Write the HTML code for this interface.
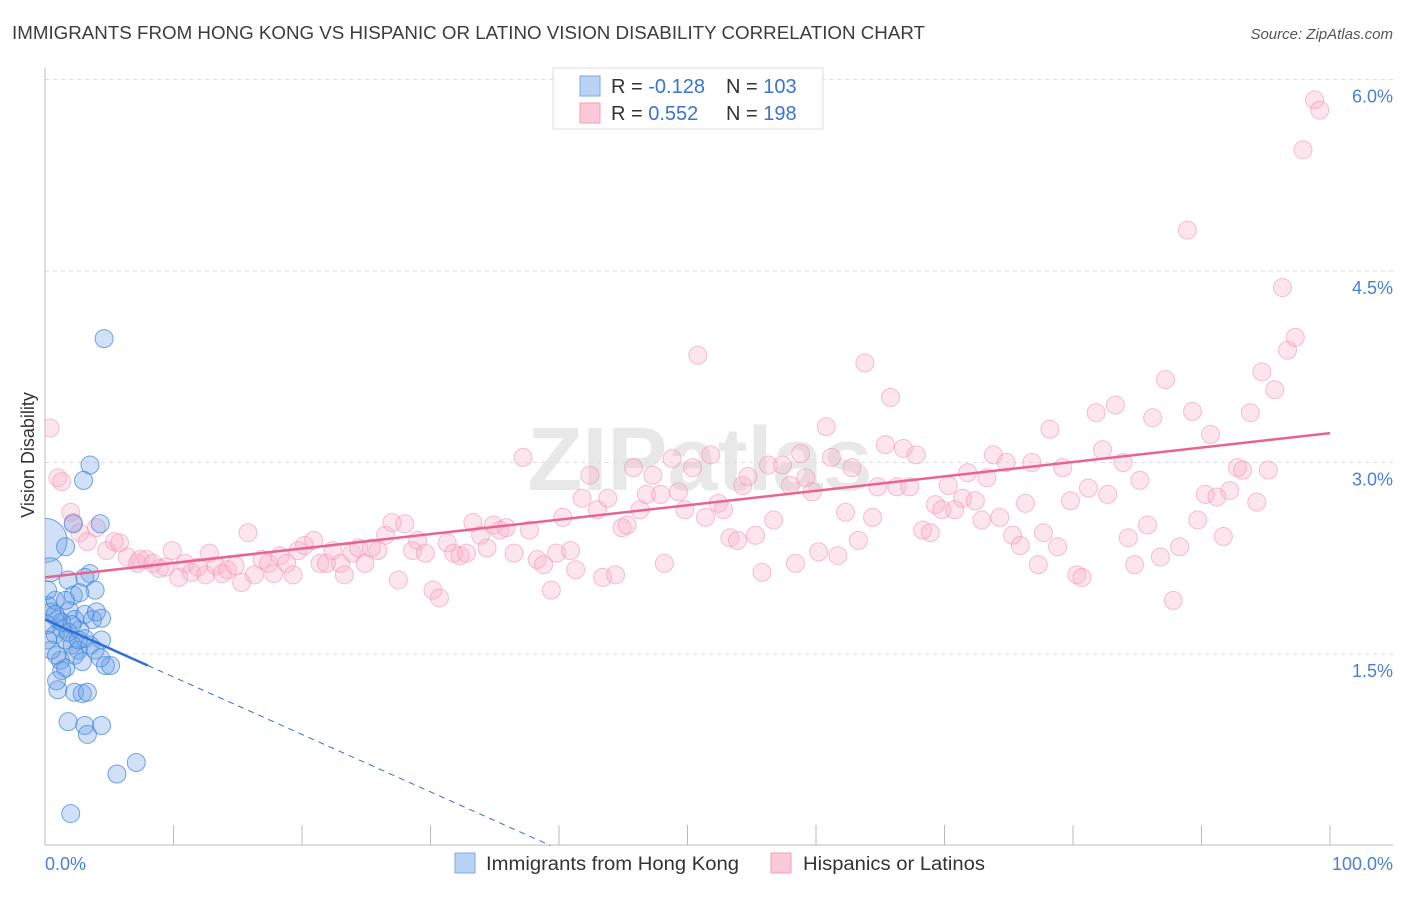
<!DOCTYPE html>
<html><head><meta charset="utf-8"><style>
body{margin:0;background:#fff;width:1406px;height:892px;overflow:hidden;font-family:"Liberation Sans",sans-serif}
svg text{font-family:"Liberation Sans",sans-serif}
</style></head><body>
<svg id="chart" width="1406" height="892">
<defs><clipPath id="plotclip"><rect x="45" y="60" width="1360" height="786"/></clipPath></defs>
<text x="12" y="39" font-size="18" fill="#3c3c3c" textLength="913" lengthAdjust="spacingAndGlyphs">IMMIGRANTS FROM HONG KONG VS HISPANIC OR LATINO VISION DISABILITY CORRELATION CHART</text>
<text x="1393" y="39" font-size="15" fill="#555" font-style="italic" text-anchor="end">Source: ZipAtlas.com</text>
<text x="700" y="490" font-size="90" fill="#e8e8e8" text-anchor="middle" font-weight="bold">ZIPatlas</text>
<g id="grid"></g><g id="axes"></g><g id="pts" clip-path="url(#plotclip)"></g><g id="trend"></g>
<text transform="translate(34,455) rotate(-90)" font-size="18" fill="#333" text-anchor="middle">Vision Disability</text>
<text x="45" y="870" font-size="18" fill="#4a7fd6">0.0%</text>
<text x="1393" y="870" font-size="18" fill="#4a7fd6" text-anchor="end">100.0%</text>
<g>
<rect x="553" y="68" width="270" height="61" fill="#fff" stroke="#ddd"/>
<rect x="580" y="76" width="20" height="20" fill="#b9d3f5" stroke="#7eaae8"/>
<rect x="580" y="103" width="20" height="20" fill="#fcc9d8" stroke="#f0a0b9"/>
<text x="611" y="93" font-size="20" fill="#333">R = <tspan fill="#3a73d2">-0.128</tspan></text>
<text x="726" y="93" font-size="20" fill="#333">N = <tspan fill="#3a73d2">103</tspan></text>
<text x="611" y="120" font-size="20" fill="#333">R = <tspan fill="#3a73d2"> 0.552</tspan></text>
<text x="726" y="120" font-size="20" fill="#333">N = <tspan fill="#3a73d2">198</tspan></text>
</g>
<g>
<rect x="455" y="853" width="20" height="20" fill="#b9d3f5" stroke="#7eaae8"/>
<text x="486" y="870" font-size="19" fill="#333" textLength="253" lengthAdjust="spacingAndGlyphs">Immigrants from Hong Kong</text></g>
<g>
<rect x="771" y="853" width="20" height="20" fill="#fcc9d8" stroke="#f0a0b9"/>
<text x="803" y="870" font-size="19" fill="#333" textLength="182" lengthAdjust="spacingAndGlyphs">Hispanics or Latinos</text></g>
</svg>
<script>
const yTicks=[1.5,3.0,4.5,6.0];
const yTickLabels=["1.5%","3.0%","4.5%","6.0%"];
const pinkX=[0.4,1.0,1.3,2.0,2.2,2.7,3.3,4.0,4.8,5.4,5.8,6.4,7.2,7.4,7.9,8.4,8.9,9.4,9.9,10.4,10.9,11.4,11.9,12.5,12.8,13.3,13.8,14.2,14.8,15.3,15.8,16.3,16.9,17.4,17.8,18.3,18.8,19.3,19.7,20.2,20.9,21.4,21.9,22.4,23.0,23.3,23.9,24.4,24.9,25.4,25.9,26.5,27.0,27.5,28.0,28.6,29.0,29.6,30.2,30.7,31.3,31.8,32.3,32.8,33.3,33.9,34.4,34.9,35.4,35.9,36.5,37.2,37.7,38.3,38.8,39.4,39.8,40.3,40.9,41.3,41.8,42.4,43.0,43.4,43.8,44.4,44.9,45.3,45.8,46.3,46.8,47.3,47.9,48.2,48.8,49.3,49.8,50.4,50.8,51.4,51.8,52.4,52.8,53.3,53.9,54.3,54.7,55.3,55.8,56.3,56.7,57.4,58.0,58.4,58.8,59.2,59.7,60.2,60.8,61.2,61.7,62.3,62.8,63.3,63.8,64.4,64.8,65.4,65.8,66.3,66.8,67.3,67.8,68.3,68.9,69.3,69.8,70.3,70.8,71.4,71.8,72.4,72.9,73.3,73.8,74.3,74.8,75.3,75.9,76.3,76.8,77.3,77.7,78.2,78.8,79.2,79.8,80.3,80.7,81.2,81.8,82.3,82.7,83.3,83.9,84.3,84.8,85.2,85.8,86.2,86.8,87.2,87.8,88.3,88.9,89.3,89.7,90.3,90.7,91.2,91.7,92.2,92.8,93.2,93.8,94.3,94.7,95.2,95.7,96.3,96.7,97.3,97.9,98.8,99.2];
const pinkY=[3.27,2.88,2.85,2.61,2.53,2.45,2.38,2.49,2.31,2.38,2.37,2.26,2.21,2.24,2.24,2.21,2.17,2.18,2.31,2.10,2.21,2.14,2.18,2.12,2.29,2.19,2.13,2.16,2.19,2.06,2.45,2.12,2.24,2.21,2.13,2.27,2.21,2.12,2.31,2.35,2.39,2.21,2.21,2.31,2.21,2.12,2.29,2.33,2.21,2.33,2.31,2.43,2.53,2.08,2.52,2.31,2.39,2.29,2.0,1.94,2.37,2.29,2.27,2.29,2.53,2.43,2.33,2.51,2.47,2.49,2.29,3.04,2.47,2.24,2.20,2.0,2.29,2.57,2.31,2.16,2.72,2.90,2.63,2.10,2.72,2.12,2.49,2.51,2.96,2.63,2.75,2.90,2.75,2.21,3.03,2.77,2.63,2.96,3.84,2.57,3.06,2.68,2.63,2.41,2.39,2.82,2.89,2.43,2.14,2.98,2.55,2.98,2.82,2.21,3.07,2.88,2.77,2.30,3.28,3.04,2.27,2.61,2.96,2.39,3.78,2.57,2.81,3.14,3.51,2.81,3.11,2.81,3.06,2.47,2.45,2.67,2.63,2.82,2.63,2.72,2.92,2.70,2.55,2.88,3.06,2.57,3.00,2.43,2.35,2.68,3.00,2.20,2.45,3.26,2.34,2.96,2.70,2.12,2.10,2.80,3.39,3.10,2.75,3.45,3.00,2.41,2.20,2.86,2.51,3.35,2.26,3.65,1.92,2.34,4.82,3.40,2.55,2.75,3.22,2.73,2.42,2.78,2.96,2.94,3.39,2.69,3.71,2.94,3.57,4.37,3.88,3.98,5.45,5.84,5.76];
const blueX=[4.6,3.5,3.0,2.2,4.3,0.0,1.6,0.4,3.5,1.8,3.1,3.9,2.2,2.7,0.2,0.5,1.0,1.3,1.9,2.3,2.7,3.1,3.7,4.0,4.4,0.2,0.8,1.6,2.1,2.6,3.1,3.5,4.4,1.2,1.6,2.3,2.9,4.7,5.1,0.2,0.5,0.9,1.3,1.8,1.0,2.3,2.9,3.3,0.8,1.6,1.8,3.1,4.4,3.3,5.6,7.1,2.0,0.2,0.8,2.1,2.6,3.9,1.3,0.9,4.3];
const blueY=[3.97,2.98,2.86,2.52,2.52,2.39,2.34,2.16,2.13,2.08,2.10,2.0,1.96,1.98,1.88,1.83,1.77,1.70,1.84,1.77,1.69,1.81,1.77,1.83,1.78,1.73,1.65,1.61,1.57,1.53,1.62,1.57,1.61,1.45,1.39,1.49,1.44,1.41,1.41,1.61,1.53,1.49,1.75,1.67,1.22,1.20,1.19,1.20,1.92,1.92,0.97,0.94,0.94,0.87,0.56,0.65,0.25,2.0,1.81,1.73,1.61,1.53,1.37,1.29,1.47];
const pinkTrend=[2.10,3.23];
const blueTrend=[1.77,-0.045];
const blueSolidEnd=8;

const X0=45,X1=1330,Y0=845.5,PX=127.67;
const xs=v=>X0+(v/100)*(X1-X0);
const ys=v=>Y0-v*PX;
const NS="http://www.w3.org/2000/svg";
function mk(tag,attrs,parent){const e=document.createElementNS(NS,tag);for(const k in attrs)e.setAttribute(k,attrs[k]);parent.appendChild(e);return e;}
const grid=document.getElementById('grid'),axes=document.getElementById('axes'),pts=document.getElementById('pts'),tr=document.getElementById('trend');
yTicks.forEach((t,i)=>{
 const l=mk('line',{x1:45,x2:1393,y1:ys(t),y2:ys(t),stroke:'#ddd','stroke-dasharray':'4,4'},grid);
 
 
 const tx=mk('text',{x:1393,y:ys(t)+23,'font-size':18,fill:'#4a7fd6','text-anchor':'end'},grid);
 tx.textContent=yTickLabels[i];
 
 
});
const la=mk('line',{x1:45,x2:45,y1:68,y2:845,stroke:'#bbb'},axes);


const lb=mk('line',{x1:45,x2:1393,y1:845,y2:845,stroke:'#bbb'},axes);


for(let k=0;k<=10;k++){const t=mk('line',{x1:xs(k*10),x2:xs(k*10),y1:825,y2:845,stroke:'#bbb'},axes);
 
 }
pinkX.forEach((x,i)=>{const c=mk('circle',{cx:xs(x),cy:ys(pinkY[i]),r:9,fill:'rgba(248,175,200,0.32)',stroke:'rgba(240,150,182,0.6)','stroke-width':1},pts);
 
 });
blueX.forEach((x,i)=>{const r=i===5?22:(i===7?12:9);const c=mk('circle',{cx:xs(x),cy:ys(blueY[i]),r:r,fill:'rgba(110,160,230,0.33)',stroke:'rgba(60,130,220,0.7)','stroke-width':1},pts);
 
 });
const pl=mk('line',{x1:xs(0),y1:ys(pinkTrend[0]),x2:xs(100),y2:ys(pinkTrend[1]),stroke:'#e8648f','stroke-width':2.5},tr);


const bY=x=>blueTrend[0]+blueTrend[1]*x;
const bl=mk('line',{x1:xs(0),y1:ys(bY(0)),x2:xs(blueSolidEnd),y2:ys(bY(blueSolidEnd)),stroke:'#2f6fd6','stroke-width':2.5},tr);


const xz=-blueTrend[0]/blueTrend[1];
const bd=mk('line',{x1:xs(blueSolidEnd),y1:ys(bY(blueSolidEnd)),x2:xs(xz),y2:ys(0),stroke:'#2f6fd6','stroke-width':1,'stroke-dasharray':'6,5'},tr);


</script>
</body></html>
